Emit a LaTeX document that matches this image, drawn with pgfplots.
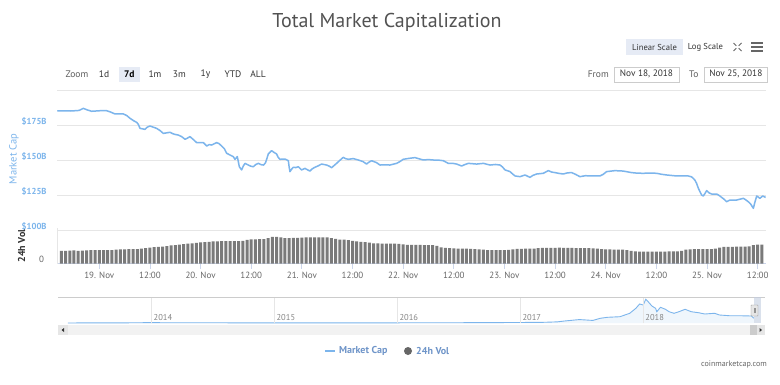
\documentclass[border=0pt]{standalone}
\usepackage{pgfplots}
\pgfplotsset{compat=1.18}
\usepackage{fontspec}
\setmainfont{PT Sans}
\definecolor{hcblue}{HTML}{7CB5EC}
\definecolor{gridgray}{HTML}{E6E6E6}
\definecolor{axisblue}{HTML}{CCD6EB}
\definecolor{txtgray}{HTML}{666666}
\definecolor{dark}{HTML}{333333}
\definecolor{btnbg}{HTML}{E6EBF5}
\definecolor{legblue}{HTML}{6F95C9}
\definecolor{volgray}{HTML}{7A7A7A}
\definecolor{maskc}{HTML}{C2CDE0}
\definecolor{scroll}{HTML}{F2F2F2}
\definecolor{btn}{HTML}{E6E6E6}
\definecolor{thumb}{HTML}{CCCCCC}
\newcommand{\fs}[1]{\fontsize{#1}{#1}\selectfont}
\begin{document}
\begin{tikzpicture}[x=1pt,y=1pt]
\useasboundingbox (0,0) rectangle (780,384);
\fill[white] (0,0) rectangle (780,384);
% title
\node[text=dark!85!white] at (387,362) {\fs{20}Total Market Capitalization};
% top-right buttons
\fill[btnbg] (626,329) rectangle (683,345);
\node[text=dark] at (654.5,337) {\fs{8.6}Linear Scale};
\node[text=dark] at (705.5,337) {\fs{8.6}Log Scale};
\foreach \sx/\sy in {1/1,1/-1,-1/1,-1/-1}{
  \draw[txtgray,line width=0.8pt] (737.5+1.2*\sx,337+1.2*\sy) -- (737.5+4*\sx,337+4*\sy);
}
\foreach \yy in {333,337,341}{\draw[txtgray,line width=1.6pt] (751,\yy) -- (763,\yy);}
% zoom buttons
\fill[btnbg] (118.5,302.3) rectangle (140,317.3);
\node[text=dark!80!white] at (77,310) {\fs{9.5}Zoom};
\node[text=dark] at (104,310) {\fs{9.5}1d};
\node[text=black] at (129.3,310) {\fs{9.5}\bfseries 7d};
\node[text=dark] at (155,310) {\fs{9.5}1m};
\node[text=dark] at (179.3,310) {\fs{9.5}3m};
\node[text=dark] at (205.5,310) {\fs{9.5}1y};
\node[text=dark] at (233,310) {\fs{9.5}YTD};
\node[text=dark] at (258,310) {\fs{9.5}ALL};
\node[text=dark!80!white] at (598.3,310) {\fs{9.5}From};
\draw[thumb,fill=white] (614,302.3) rectangle (679,317.3);
\node[text=dark] at (646.5,310) {\fs{9.3}Nov 18, 2018};
\node[text=dark!80!white] at (693.8,310) {\fs{9.5}To};
\draw[thumb,fill=white] (704,302.3) rectangle (767.5,317.3);
\node[text=dark] at (735.8,310) {\fs{9.3}Nov 25, 2018};
% axis titles
\node[rotate=90,text=hcblue] at (14,225) {\fs{10.5}Market Cap};
\node[rotate=90,text=dark] at (21.7,138) {\fs{10}\bfseries 24h Vol};

% price axis
\begin{axis}[at={(57.3pt,154pt)},anchor=south west,scale only axis,
  width=708.4pt,height=140pt,xmin=-0.4146,xmax=6.578,ymin=100,ymax=200,
  enlargelimits=false,axis line style={draw=none},xtick=\empty,
  ytick={100,125,150,175,200},yticklabels={\$100B,\$125B,\$150B,\$175B,},
  ymajorgrids,grid style={gridgray,line width=0.8pt},major tick length=0pt,
  yticklabel style={font=\fs{8.7}\bfseries,text=hcblue,inner sep=0pt,anchor=east,xshift=-10.5pt,yshift=3.3pt},
  clip=false]
\addplot[hcblue,line width=1.5pt,line join=round] coordinates {
(-0.415,185.0) (-0.35,185.1) (-0.28,185.0) (-0.2,185.4) (-0.158,186.9) (-0.12,185.8) (-0.075,184.8) (0.007,185.2) (0.072,185.2) (0.11,184.3) (0.155,182.9) (0.237,182.9) (0.27,181.8) (0.303,179.8) (0.34,178.0) (0.369,176.9) (0.385,175.5) (0.402,172.6) (0.451,171.9) (0.47,173.3) (0.5,174.3) (0.566,172.6) (0.6,171.0) (0.632,169.0) (0.698,169.8) (0.725,168.8) (0.747,168.3) (0.78,167.8) (0.813,166.7) (0.846,164.8) (0.87,165.6) (0.895,166.7) (0.93,164.5) (0.961,162.4) (1.027,162.4) (1.06,160.0) (1.085,161.0) (1.109,160.7) (1.158,162.4) (1.18,161.8) (1.208,160.0) (1.235,158.0) (1.257,154.8) (1.29,153.6) (1.323,152.4) (1.339,150.5) (1.362,152.4) (1.372,149.0) (1.382,145.2) (1.405,142.9) (1.42,145.5) (1.438,147.6) (1.471,146.4) (1.495,145.6) (1.52,145.2) (1.545,146.8) (1.57,147.6) (1.6,146.6) (1.622,146.4) (1.64,148.0) (1.652,150.5) (1.668,154.3) (1.701,156.7) (1.725,155.4) (1.75,154.3) (1.765,152.0) (1.783,150.5) (1.833,150.7) (1.866,149.5) (1.874,145.0) (1.882,141.7) (1.9,143.6) (1.915,144.8) (1.94,144.6) (1.964,145.2) (1.997,142.9) (2.03,144.0) (2.055,143.0) (2.079,142.1) (2.1,143.6) (2.128,144.8) (2.16,145.8) (2.194,147.1) (2.244,146.4) (2.27,145.6) (2.293,144.5) (2.32,146.2) (2.342,147.6) (2.375,149.8) (2.408,151.9) (2.43,151.0) (2.458,150.5) (2.507,151.0) (2.556,150.0) (2.58,149.4) (2.605,148.8) (2.638,147.1) (2.66,148.4) (2.688,149.5) (2.737,148.1) (2.77,146.4) (2.82,146.6) (2.868,146.4) (2.935,147.6) (2.97,149.0) (3.0,150.5) (3.06,151.2) (3.116,151.7) (3.16,150.8) (3.198,150.0) (3.25,150.3) (3.297,150.0) (3.35,149.9) (3.396,149.5) (3.445,147.6) (3.49,147.6) (3.528,147.1) (3.577,145.7) (3.61,146.8) (3.643,147.6) (3.725,147.1) (3.791,147.6) (3.857,146.4) (3.91,146.8) (3.956,146.4) (3.98,145.0) (4.005,142.9) (4.054,141.7) (4.08,140.0) (4.104,138.6) (4.153,138.1) (4.202,139.3) (4.251,137.6) (4.28,139.0) (4.317,140.0) (4.383,140.5) (4.432,142.4) (4.465,141.4) (4.498,141.0) (4.54,140.4) (4.58,140.0) (4.62,140.8) (4.662,141.0) (4.7,139.8) (4.744,138.1) (4.8,138.8) (4.843,138.6) (4.942,138.6) (4.975,139.8) (5.007,141.7) (5.09,142.4) (5.172,142.1) (5.254,141.0) (5.31,140.6) (5.369,140.5) (5.44,140.7) (5.501,140.5) (5.55,139.8) (5.6,139.3) (5.698,138.6) (5.813,138.6) (5.845,138.0) (5.863,136.9) (5.88,135.5) (5.896,133.3) (5.912,130.0) (5.929,127.4) (5.945,125.0) (5.962,124.3) (5.978,126.0) (5.995,128.1) (6.02,126.5) (6.044,125.7) (6.094,125.7) (6.12,124.6) (6.143,123.3) (6.17,121.8) (6.192,120.2) (6.225,121.4) (6.291,121.4) (6.357,122.6) (6.38,121.6) (6.406,120.2) (6.43,118.5) (6.456,115.5) (6.47,119.5) (6.489,124.3) (6.505,123.5) (6.521,122.6) (6.548,124.3) (6.577,123.3)
};
\end{axis}

% volume axis
\begin{axis}[at={(57.3pt,120.5pt)},anchor=south west,scale only axis,
  width=708.4pt,height=35.5pt,xmin=-9.95,xmax=157.9,ymin=0,ymax=40,
  enlargelimits=false,axis x line*=bottom,axis y line*=left,
  x axis line style={axisblue,-},y axis line style={gridgray,-},
  xtick={0,12,...,156},
  xticklabels={19. Nov,12:00,20. Nov,12:00,21. Nov,12:00,22. Nov,12:00,23. Nov,12:00,24. Nov,12:00,25. Nov,12:00},
  xtick style={axisblue,line width=0.8pt},tick align=outside,major tick length=5pt,
  ytick={0},yticklabels={0},ytick style={draw=none},
  xticklabel style={font=\fs{9},text=txtgray},
  yticklabel style={font=\fs{9},text=txtgray,inner sep=0pt,anchor=east,xshift=-8pt,yshift=4pt},
  /pgf/number format/assume math mode=true]
\addplot[ybar,bar width=3pt,fill=volgray,draw=none] coordinates {
(-9,14.3) (-8,14.3) (-7,14.6) (-6,14.8) (-5,14.2) (-4,14.4) (-3,14.9) (-2,15.0) (-1,15.0)
(0,15.0) (1,15.0) (2,15.1) (3,15.2) (4,15.6) (5,15.9) (6,16.0) (7,16.1) (8,16.2) (9,16.3) (10,16.8) (11,17.3)
(12,17.9) (13,18.4) (14,18.8) (15,19.1) (16,19.7) (17,20.3) (18,20.8) (19,21.3) (20,21.7) (21,22.3) (22,22.8) (23,23.3)
(24,23.8) (25,24.2) (26,24.5) (27,24.8) (28,25.0) (29,25.1) (30,25.2) (31,25.2) (32,25.3) (33,25.3) (34,25.4) (35,26.5)
(36,27.1) (37,27.3) (38,27.4) (39,27.4) (40,28.5) (41,30.0) (42,30.1) (43,29.5) (44,28.5) (45,28.6) (46,28.8) (47,28.8)
(48,29.2) (49,29.3) (50,29.3) (51,29.3) (52,29.4) (53,29.5) (54,29.3) (55,28.6) (56,27.8) (57,27.0) (58,27.0) (59,26.4)
(60,25.6) (61,24.8) (62,24.4) (63,24.2) (64,23.4) (65,22.7) (66,22.6) (67,22.5) (68,22.4) (69,22.4) (70,22.3) (71,22.2)
(72,21.5) (73,21.1) (74,21.1) (75,21.0) (76,20.9) (77,20.8) (78,20.8) (79,20.7) (80,20.0) (81,18.3) (82,17.5) (83,17.2)
(84,17.0) (85,16.9) (86,16.9) (87,16.8) (88,16.6) (89,16.3) (90,16.0) (91,15.6) (92,15.2) (93,15.0) (94,15.0) (95,15.0)
(96,15.1) (97,15.4) (98,16.0) (99,16.4) (100,16.6) (101,16.7) (102,16.7) (103,16.8) (104,17.4) (105,17.7) (106,17.7) (107,17.6)
(108,17.7) (109,17.8) (110,17.7) (111,17.6) (112,17.5) (113,17.4) (114,17.3) (115,17.2) (116,17.2) (117,17.0) (118,16.7) (119,16.3)
(120,16.0) (121,15.8) (122,15.7) (123,15.7) (124,15.6) (125,15.0) (126,14.1) (127,13.6) (128,13.5) (129,13.5) (130,13.4) (131,13.4)
(132,13.5) (133,13.5) (134,13.5) (135,13.6) (136,13.6) (137,13.8) (138,14.2) (139,15.5) (140,16.0) (141,16.1) (142,16.1) (143,16.2)
(144,16.3) (145,16.3) (146,16.7) (147,17.8) (148,18.6) (149,18.8) (150,18.8) (151,18.9) (152,18.9) (153,19.0) (154,19.4) (155,20.8)
(156,21.3) (157,21.4)
};
\end{axis}

% navigator
\fill[scroll] (58,49) rectangle (765,59);
\fill[btn] (58,49) rectangle (68,59);
\fill[btn] (757,49) rectangle (765,59);
\fill[thumb] (750,49) rectangle (757,59);
\fill[dark] (61.5,54) -- (64,56) -- (64,52) -- cycle;
\fill[dark] (762,54) -- (759.5,56) -- (759.5,52) -- cycle;
\begin{axis}[at={(58pt,61pt)},anchor=south west,scale only axis,
  width=707pt,height=26pt,xmin=2013.24,xmax=2018.99,ymin=0,ymax=910,
  enlargelimits=false,axis line style={draw=none},axis on top,
  xtick={2014,2015,2016,2017,2018},xticklabels={2014,2015,2016,2017,2018},
  xmajorgrids,grid style={gridgray,line width=0.8pt},major tick length=0pt,
  ytick=\empty,
  xticklabel style={font=\fs{8.5},text=txtgray!80!white,anchor=south west,inner sep=1pt,yshift=1pt,xshift=1pt},
  clip=false]
\addplot[fill=hcblue,fill opacity=0.12,draw=none] coordinates {
(2013.32,1.6) (2013.7,3) (2013.9,10) (2014.0,12) (2014.2,8) (2014.5,8) (2014.9,5) (2015.0,5) (2015.5,4) (2016.0,7) (2016.5,10) (2017.0,18) (2017.2,25) (2017.3,40) (2017.36,70) (2017.48,120) (2017.59,90) (2017.65,165) (2017.71,200) (2017.81,220) (2017.89,340) (2017.94,515) (2017.97,665) (2018.0,630) (2018.02,830) (2018.04,745) (2018.07,595) (2018.10,515) (2018.11,395) (2018.14,550) (2018.18,480) (2018.21,395) (2018.25,340) (2018.29,395) (2018.34,480) (2018.39,395) (2018.45,360) (2018.50,315) (2018.58,340) (2018.62,280) (2018.70,255) (2018.78,255) (2018.88,245) (2018.90,165)
} \closedcycle;
\addplot[hcblue,line width=0.9pt] coordinates {
(2013.32,1.6) (2013.7,3) (2013.9,10) (2014.0,12) (2014.2,8) (2014.5,8) (2014.9,5) (2015.0,5) (2015.5,4) (2016.0,7) (2016.5,10) (2017.0,18) (2017.2,25) (2017.3,40) (2017.36,70) (2017.48,120) (2017.59,90) (2017.65,165) (2017.71,200) (2017.81,220) (2017.89,340) (2017.94,515) (2017.97,665) (2018.0,630) (2018.02,830) (2018.04,745) (2018.07,595) (2018.10,515) (2018.11,395) (2018.14,550) (2018.18,480) (2018.21,395) (2018.25,340) (2018.29,395) (2018.34,480) (2018.39,395) (2018.45,360) (2018.50,315) (2018.58,340) (2018.62,280) (2018.70,255) (2018.78,255) (2018.88,245) (2018.90,165)
};
\end{axis}
\draw[thumb,line width=0.6pt] (58,87) -- (765,87);
\fill[maskc,opacity=0.6] (754,61) rectangle (761,87);
\draw[txtgray!70!white,fill=btn,rounded corners=0.5pt] (751,68) rectangle (758,79);
\draw[txtgray!70!white] (753.7,71) -- (753.7,76) (755.3,71) -- (755.3,76);

% legend
\draw[hcblue,line width=2pt] (325,33) -- (335,33);
\node[anchor=west,text=legblue,inner sep=0pt] at (339,33) {\fs{10}\bfseries Market Cap};
\fill[txtgray] (408,33) circle (4);
\node[anchor=west,text=legblue,inner sep=0pt] at (416,33) {\fs{10}\bfseries 24h Vol};
\node[anchor=east,text=txtgray,inner sep=0pt] at (767,19.5) {\fs{8}coinmarketcap.com};
\end{tikzpicture}
\end{document}
